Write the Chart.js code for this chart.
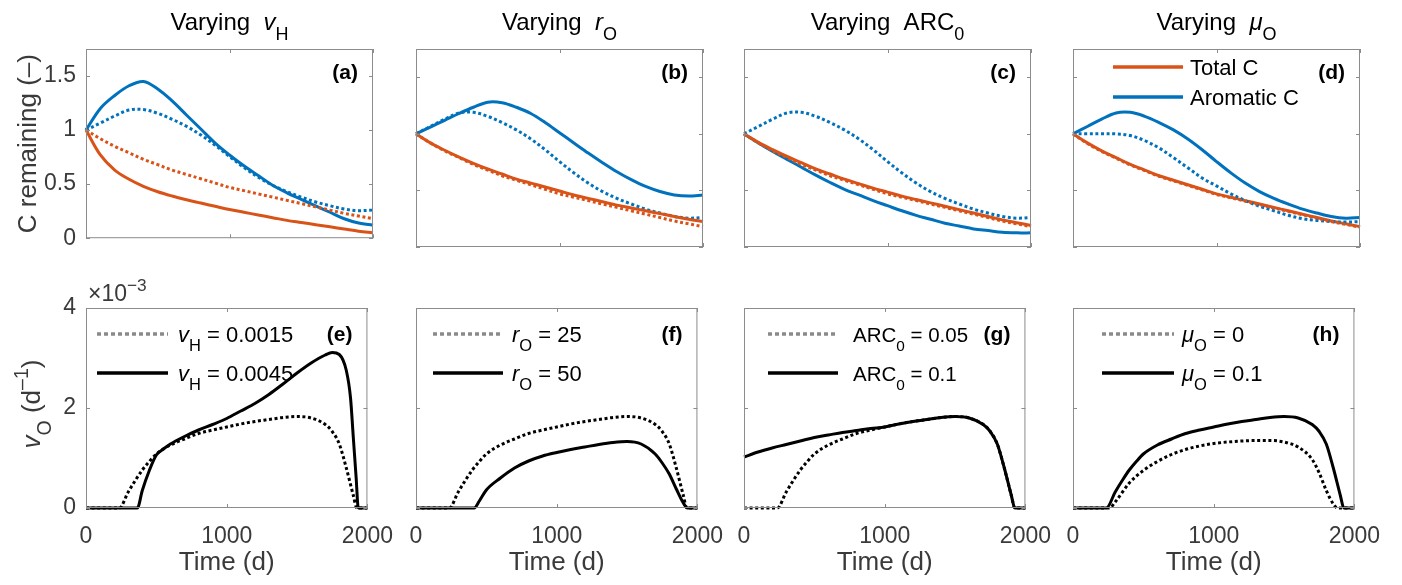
<!DOCTYPE html>
<html>
<head>
<meta charset="utf-8">
<script src="https://cdn.jsdelivr.net/npm/chart.js@4.4.1/dist/chart.umd.min.js"></script>
<style>
body { margin: 0; background: #fff; width: 1402px; height: 585px; position: relative; overflow: hidden; }
canvas { position: absolute; }
</style>
</head>
<body>
<script>
// ---- data ----
var days = [0,100,200,300,400,500,600,700,800,900,1000,1100,1200,1300,1400,1500,1600,1700,1800,1900,2000];
var xTicks = [0, 1000, 2000];
var cTicks = [0, 0.5, 1, 1.5];
var vTicks = [0, 2, 4];

// C remaining, reference run (dotted in a-c, solid in d)
var totalBase = [1.00,0.92,0.85,0.79,0.73,0.68,0.63,0.59,0.55,0.51,0.47,0.44,0.41,0.38,0.35,0.32,0.29,0.26,0.23,0.205,0.18];
var aromBase  = [1.00,1.065,1.13,1.185,1.19,1.155,1.10,1.035,0.955,0.86,0.755,0.655,0.565,0.49,0.43,0.38,0.335,0.30,0.27,0.255,0.26];
// (a) vH = 0.0045
var totalA = [1.00,0.77,0.63,0.545,0.48,0.43,0.39,0.355,0.325,0.295,0.265,0.24,0.215,0.19,0.165,0.145,0.125,0.105,0.085,0.065,0.05];
var aromA  = [1.00,1.20,1.32,1.41,1.45,1.38,1.27,1.14,1.01,0.88,0.77,0.67,0.58,0.49,0.42,0.36,0.30,0.24,0.18,0.14,0.12];
// (b) rO = 50
var totalB = [1.00,0.92,0.855,0.795,0.74,0.69,0.645,0.60,0.565,0.53,0.495,0.46,0.43,0.40,0.37,0.345,0.32,0.295,0.27,0.245,0.225];
var aromB  = [1.00,1.06,1.12,1.18,1.235,1.28,1.275,1.235,1.18,1.10,1.01,0.92,0.83,0.745,0.665,0.595,0.535,0.49,0.46,0.45,0.46];
// (c) ARC0 = 0.1
var totalC = [1.00,0.925,0.86,0.80,0.745,0.69,0.645,0.60,0.56,0.52,0.485,0.45,0.42,0.39,0.36,0.33,0.30,0.27,0.24,0.215,0.19];
var aromC  = [1.00,0.92,0.845,0.775,0.705,0.635,0.57,0.51,0.46,0.41,0.365,0.32,0.28,0.245,0.21,0.185,0.16,0.145,0.13,0.125,0.125];
// (d) muO = 0
var totalD = [1.00,0.915,0.845,0.785,0.725,0.675,0.625,0.585,0.545,0.505,0.465,0.435,0.405,0.375,0.345,0.315,0.285,0.255,0.225,0.20,0.175];
var aromD  = [1.00,1.00,1.00,1.00,0.985,0.94,0.875,0.79,0.70,0.61,0.54,0.47,0.41,0.36,0.32,0.28,0.25,0.235,0.225,0.22,0.225];

// vO (x 1e-3 d^-1), reference run
var vBaseDays = [0,237,300,350,400,450,500,600,700,800,900,1000,1100,1200,1300,1400,1500,1600,1700,1750,1800,1850,1900,1925,2000];
var vBase     = [0,0,0.32,0.55,0.76,0.93,1.08,1.26,1.38,1.49,1.56,1.62,1.68,1.73,1.77,1.81,1.83,1.80,1.67,1.53,1.28,0.80,0.25,0,0];
// (e) vH = 0.0045
var vEDays = [0,365,400,450,500,550,600,700,800,900,1000,1100,1200,1300,1400,1500,1600,1700,1750,1800,1850,1880,1900,1920,1935,2000];
var vE     = [0,0,0.35,0.75,1.06,1.18,1.28,1.43,1.56,1.67,1.79,1.94,2.09,2.27,2.48,2.70,2.90,3.06,3.11,3.07,2.75,2.20,1.40,0.60,0,0];
// (f) rO = 50
var vFDays = [0,413,450,500,600,700,800,900,1000,1100,1200,1300,1400,1500,1600,1700,1750,1800,1850,1900,1930,2000];
var vF     = [0,0,0.14,0.36,0.60,0.80,0.94,1.04,1.11,1.17,1.22,1.27,1.31,1.33,1.28,1.08,0.90,0.68,0.38,0.10,0,0];
// (g) ARC0 = 0.1
var vGDays = [0,100,200,300,400,500,600,700,800,900,1000,1100,1200,1300,1400,1500,1600,1700,1750,1800,1850,1900,1925,2000];
var vG     = [1.02,1.12,1.20,1.27,1.34,1.41,1.46,1.51,1.55,1.59,1.62,1.68,1.73,1.77,1.81,1.83,1.80,1.67,1.53,1.28,0.80,0.25,0,0];
// (h) muO = 0
var vHDays = [0,260,300,400,500,600,700,800,900,1000,1100,1200,1300,1400,1500,1600,1700,1750,1800,1850,1880,2000];
var vH     = [0,0,0.12,0.50,0.75,0.93,1.07,1.17,1.24,1.29,1.32,1.34,1.35,1.35,1.32,1.22,0.97,0.70,0.35,0.08,0,0];

// ---- style ----
var FONT = '"Liberation Sans", Arial, Helvetica, sans-serif';
var ORANGE = '#D95319', BLUE = '#0072BD', BLACK = '#000000';
var DOT = [3, 2.6];
var TICK_COLOR = '#3a3a3a';
var PLOT_W = 287;
var colLeft = [86, 416, 744, 1073];
var rows = [
  { canvasTop: 0,   plotTop: 49,  plotBottom: 247, canvasBottom: 262 },
  { canvasTop: 262, plotTop: 308, plotBottom: 508, canvasBottom: 585 }
];

function zip(xs, ys) {
  return xs.map(function (x, i) { return { x: x, y: ys[i] }; });
}

// smooth: true -> bezier curve (top row), false -> monotone (bottom row, sharp shoulders)
function line(xs, ys, color, dotted, smooth) {
  return {
    data: zip(xs, ys),
    borderColor: color,
    backgroundColor: color,
    borderWidth: 3,
    borderDash: dotted ? DOT : [],
    pointRadius: 0,
    cubicInterpolationMode: smooth ? 'default' : 'monotone',
    tension: smooth ? 0.35 : 0,
    fill: false,
    clip: 4
  };
}

// rich text: segments [text, flags] where i=italic, B=bold, _=sub, ^=sup
function segFont(f, size) {
  var small = f.indexOf('_') >= 0 || f.indexOf('^') >= 0;
  var s = small ? size * 0.75 : size;
  return (f.indexOf('i') >= 0 ? 'italic ' : '') + (f.indexOf('B') >= 0 ? 'bold ' : '') + s.toFixed(1) + 'px ' + FONT;
}
function richWidth(ctx, segs, size) {
  var w = 0;
  segs.forEach(function (s) { ctx.font = segFont(s[1] || '', size); w += ctx.measureText(s[0]).width; });
  return w;
}
function drawRich(ctx, segs, x, y, size, align, color) {
  var w = richWidth(ctx, segs, size);
  var cx = align === 'center' ? x - w / 2 : (align === 'right' ? x - w : x);
  ctx.fillStyle = color;
  ctx.textBaseline = 'alphabetic';
  ctx.textAlign = 'left';
  segs.forEach(function (s) {
    var f = s[1] || '';
    ctx.font = segFont(f, size);
    var dy = f.indexOf('_') >= 0 ? size * 0.42 : (f.indexOf('^') >= 0 ? -size * 0.45 : 0);
    ctx.fillText(s[0], cx, y + dy);
    cx += ctx.measureText(s[0]).width;
  });
}

function makeFrame(cfg) {
  return {
    id: 'frame',
    afterDraw: function (chart) {
      var ctx = chart.ctx, a = chart.chartArea;
      var xs = chart.scales.x, ys = chart.scales.y;
      ctx.save();
      ctx.setLineDash([]);
      ctx.strokeStyle = '#8c8c8c';
      ctx.lineWidth = 1;
      ctx.strokeRect(a.left + 0.5, a.top + 0.5, a.right - a.left - 1, a.bottom - a.top - 1);
      ctx.beginPath();
      xs.ticks.forEach(function (t) {
        var px = Math.round(xs.getPixelForValue(t.value)) + 0.5;
        ctx.moveTo(px, a.bottom); ctx.lineTo(px, a.bottom - 4);
        ctx.moveTo(px, a.top); ctx.lineTo(px, a.top + 4);
      });
      ys.ticks.forEach(function (t) {
        var py = Math.round(ys.getPixelForValue(t.value)) + 0.5;
        ctx.moveTo(a.left, py); ctx.lineTo(a.left + 4, py);
        ctx.moveTo(a.right, py); ctx.lineTo(a.right - 4, py);
      });
      ctx.stroke();

      var cx = (a.left + a.right) / 2;
      if (cfg.title) drawRich(ctx, cfg.title, cx, 30, 24, 'center', '#000');
      if (cfg.xTitle) drawRich(ctx, [[cfg.xTitle]], cx, a.bottom + 62, 26, 'center', TICK_COLOR);
      if (cfg.yTitle) {
        ctx.save();
        ctx.translate(cfg.yTitleX, (a.top + a.bottom) / 2 + (cfg.yTitleDy || 0));
        ctx.rotate(-Math.PI / 2);
        drawRich(ctx, cfg.yTitle, 0, 0, 26, 'center', TICK_COLOR);
        ctx.restore();
      }
      if (cfg.exponent) drawRich(ctx, [['\u00d710'], ['\u22123', '^']], a.left + 2, a.top - 7, 23, 'left', TICK_COLOR);
      if (cfg.tag) drawRich(ctx, [[cfg.tag, 'B']], a.right - 15, a.top + cfg.tagDy, 21, 'right', '#000');
      if (cfg.legend) {
        cfg.legend.forEach(function (it) {
          var y = a.top + it.y;
          ctx.beginPath();
          ctx.strokeStyle = it.color;
          ctx.lineWidth = 3.5;
          ctx.setLineDash(it.dash || []);
          ctx.moveTo(a.left + it.x0, y);
          ctx.lineTo(a.left + it.x1, y);
          ctx.stroke();
          ctx.setLineDash([]);
          drawRich(ctx, it.text, a.left + it.tx, y + 8, it.size || 22, 'left', '#000');
        });
      }
      ctx.restore();
    }
  };
}

function makePanel(col, row, datasets, yMax, yTicks, cfg) {
  var r = rows[row];
  var padL = col === 0 ? colLeft[0] : 40;
  var padR = 35;
  var canvasLeft = colLeft[col] - padL;
  var width = padL + PLOT_W + padR;
  var height = r.canvasBottom - r.canvasTop;
  var padB = r.canvasBottom - r.plotBottom;
  var cv = document.createElement('canvas');
  cv.width = width; cv.height = height;
  cv.style.left = canvasLeft + 'px';
  cv.style.top = r.canvasTop + 'px';
  cv.style.width = width + 'px';
  cv.style.height = height + 'px';
  document.body.appendChild(cv);

  new Chart(cv, {
    type: 'line',
    data: { datasets: datasets },
    options: {
      responsive: false,
      animation: false,
      devicePixelRatio: 1,
      layout: { padding: { top: r.plotTop - r.canvasTop, right: padR, left: 0, bottom: 0 } },
      plugins: { legend: { display: false }, tooltip: { enabled: false } },
      scales: {
        x: {
          type: 'linear', min: 0, max: 2000,
          grid: { display: false, drawTicks: false },
          border: { display: false },
          afterBuildTicks: function (s) { s.ticks = xTicks.map(function (v) { return { value: v }; }); },
          afterFit: function (s) { s.height = padB; },
          ticks: {
            display: row === 1, autoSkip: false, maxRotation: 0, padding: 15,
            color: TICK_COLOR, font: { family: FONT, size: 23 },
            callback: function (v) { return String(v); }
          }
        },
        y: {
          type: 'linear', min: 0, max: yMax,
          grid: { display: false, drawTicks: false },
          border: { display: false },
          afterBuildTicks: function (s) { s.ticks = yTicks.map(function (v) { return { value: v }; }); },
          afterFit: function (s) { s.width = padL; },
          ticks: {
            display: col === 0, autoSkip: false, padding: 10,
            color: TICK_COLOR, font: { family: FONT, size: 23 },
            callback: function (v) { return String(v); }
          }
        }
      }
    },
    plugins: [makeFrame(cfg)]
  });
}

// ---- top row: C remaining ----
makePanel(0, 0, [
  line(days, totalA, ORANGE, false, true), line(days, totalBase, ORANGE, true, true),
  line(days, aromBase, BLUE, true, true), line(days, aromA, BLUE, false, true)
], 1.75, cTicks, {
  title: [['Varying  '], ['v', 'i'], ['H', '_']], tag: '(a)', tagDy: 30,
  yTitle: [['C remaining (\u2013)']], yTitleX: 36
});
makePanel(1, 0, [
  line(days, totalB, ORANGE, false, true), line(days, totalBase, ORANGE, true, true),
  line(days, aromBase, BLUE, true, true), line(days, aromB, BLUE, false, true)
], 1.75, cTicks, { title: [['Varying  '], ['r', 'i'], ['O', '_']], tag: '(b)', tagDy: 30 });
makePanel(2, 0, [
  line(days, totalC, ORANGE, false, true), line(days, totalBase, ORANGE, true, true),
  line(days, aromBase, BLUE, true, true), line(days, aromC, BLUE, false, true)
], 1.75, cTicks, { title: [['Varying  ARC'], ['0', '_']], tag: '(c)', tagDy: 30 });
makePanel(3, 0, [
  line(days, totalD, ORANGE, true, true), line(days, aromD, BLUE, true, true),
  line(days, totalBase, ORANGE, false, true), line(days, aromBase, BLUE, false, true)
], 1.75, cTicks, {
  title: [['Varying  '], ['\u03bc', 'i'], ['O', '_']], tag: '(d)', tagDy: 30,
  legend: [
    { y: 18, x0: 40, x1: 110, tx: 117, color: ORANGE, text: [['Total C']] },
    { y: 48, x0: 40, x1: 110, tx: 117, color: BLUE, text: [['Aromatic C']] }
  ]
});

// ---- bottom row: vO ----
var GREY_DOT = '#8a8a8a', LEG_DOT = [4, 3];
makePanel(0, 1, [line(vBaseDays, vBase, BLACK, true), line(vEDays, vE, BLACK, false)], 4, vTicks, {
  tag: '(e)', tagDy: 33, xTitle: 'Time (d)', exponent: true,
  yTitle: [['v', 'i'], ['O', '_'], [' (d'], ['\u20131', '^'], [')']], yTitleX: 40, yTitleDy: -4,
  legend: [
    { y: 26, x0: 11, x1: 82, tx: 92, color: GREY_DOT, dash: LEG_DOT, text: [['v', 'i'], ['H', '_'], [' = 0.0015']] },
    { y: 65, x0: 11, x1: 82, tx: 92, color: BLACK, text: [['v', 'i'], ['H', '_'], [' = 0.0045']] }
  ]
});
makePanel(1, 1, [line(vBaseDays, vBase, BLACK, true), line(vFDays, vF, BLACK, false)], 4, vTicks, {
  tag: '(f)', tagDy: 33, xTitle: 'Time (d)',
  legend: [
    { y: 26, x0: 17, x1: 87, tx: 96, color: GREY_DOT, dash: LEG_DOT, text: [['r', 'i'], ['O', '_'], [' = 25']] },
    { y: 65, x0: 17, x1: 87, tx: 96, color: BLACK, text: [['r', 'i'], ['O', '_'], [' = 50']] }
  ]
});
makePanel(2, 1, [line(vBaseDays, vBase, BLACK, true), line(vGDays, vG, BLACK, false)], 4, vTicks, {
  tag: '(g)', tagDy: 33, xTitle: 'Time (d)',
  legend: [
    { y: 26, x0: 24, x1: 94, tx: 109, size: 20.5, color: GREY_DOT, dash: LEG_DOT, text: [['ARC'], ['0', '_'], [' = 0.05']] },
    { y: 65, x0: 24, x1: 94, tx: 109, size: 20.5, color: BLACK, text: [['ARC'], ['0', '_'], [' = 0.1']] }
  ]
});
makePanel(3, 1, [line(vHDays, vH, BLACK, true), line(vBaseDays, vBase, BLACK, false)], 4, vTicks, {
  tag: '(h)', tagDy: 33, xTitle: 'Time (d)',
  legend: [
    { y: 26, x0: 29, x1: 101, tx: 109, color: GREY_DOT, dash: LEG_DOT, text: [['\u03bc', 'i'], ['O', '_'], [' = 0']] },
    { y: 65, x0: 29, x1: 101, tx: 109, color: BLACK, text: [['\u03bc', 'i'], ['O', '_'], [' = 0.1']] }
  ]
});
</script>
</body>
</html>
